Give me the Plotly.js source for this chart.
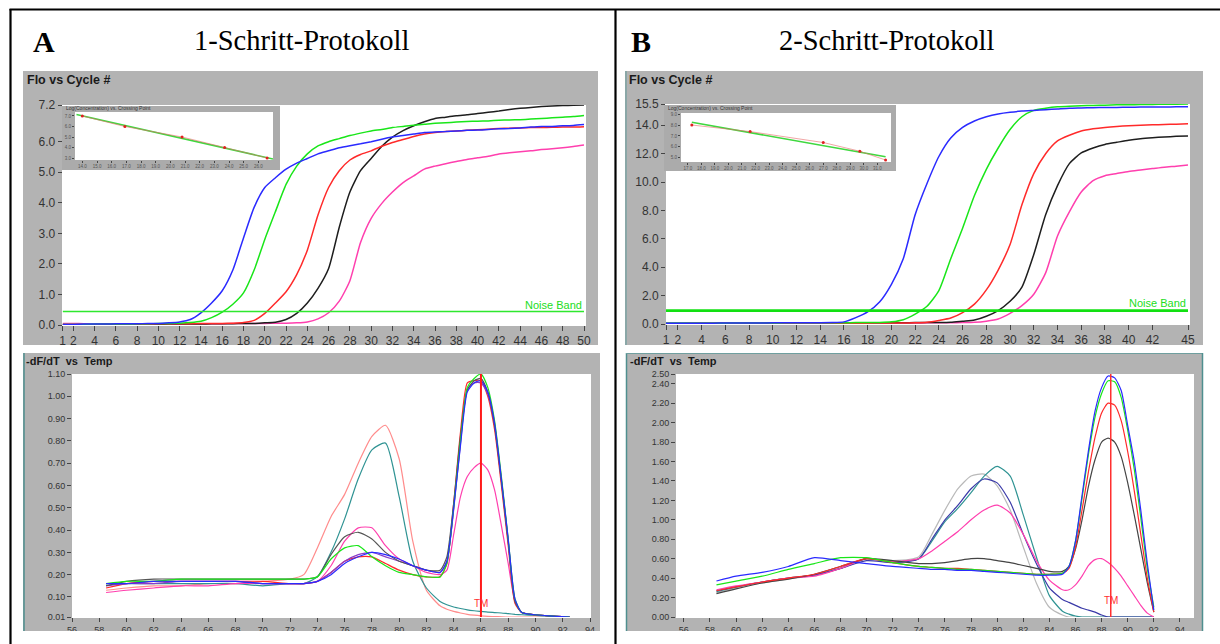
<!DOCTYPE html>
<html><head><meta charset="utf-8">
<script src="https://cdn.plot.ly/plotly-3.0.1.min.js"></script>
<style>html,body{margin:0;padding:0;background:#fff}#chart{width:1220px;height:644px}</style>
</head><body><div id="chart"></div>
<script>
// ---------------- DATA ----------------
const cyclesA = [1,2,3,4,5,6,7,8,9,10,11,12,13,14,15,16,17,18,19,20,21,22,23,24,25,26,27,28,29,30,31,32,33,34,35,36,37,38,39,40,41,42,43,44,45,46,47,48,49,50];
const ampA_blue  = [0.02,0.02,0.03,0.03,0.03,0.04,0.04,0.04,0.05,0.05,0.07,0.10,0.18,0.40,0.72,1.12,1.80,2.85,3.85,4.50,4.82,5.10,5.30,5.45,5.60,5.70,5.80,5.87,5.93,6.00,6.08,6.15,6.20,6.25,6.30,6.32,6.33,6.35,6.37,6.38,6.40,6.42,6.43,6.45,6.48,6.50,6.50,6.52,6.53,6.56];
const ampA_green = [0.02,0.02,0.02,0.03,0.03,0.03,0.03,0.04,0.04,0.05,0.05,0.06,0.08,0.12,0.24,0.42,0.68,1.05,1.80,2.80,3.71,4.60,5.20,5.60,5.86,6.00,6.10,6.20,6.28,6.35,6.40,6.46,6.50,6.54,6.57,6.60,6.62,6.64,6.66,6.67,6.68,6.70,6.71,6.72,6.74,6.76,6.78,6.80,6.82,6.86];
const ampA_red   = [0.02,0.02,0.02,0.02,0.03,0.03,0.03,0.03,0.03,0.04,0.04,0.04,0.04,0.05,0.05,0.05,0.06,0.08,0.15,0.38,0.72,1.09,1.65,2.45,3.60,4.50,5.05,5.40,5.58,5.70,5.85,5.97,6.07,6.17,6.25,6.30,6.33,6.35,6.37,6.39,6.41,6.43,6.44,6.45,6.46,6.46,6.47,6.48,6.48,6.49];
const ampA_black = [0.01,0.01,0.01,0.01,0.02,0.02,0.02,0.02,0.02,0.02,0.03,0.03,0.03,0.03,0.04,0.04,0.04,0.05,0.05,0.07,0.09,0.18,0.38,0.72,1.20,1.85,3.20,4.35,5.05,5.45,5.85,6.15,6.36,6.52,6.65,6.76,6.80,6.85,6.88,6.92,6.96,7.00,7.05,7.09,7.12,7.15,7.17,7.18,7.19,7.20];
const ampA_pink  = [0.05,0.05,0.04,0.02,0.02,0.02,0.03,0.03,0.03,0.03,0.03,0.03,0.04,0.04,0.04,0.04,0.05,0.05,0.05,0.05,0.06,0.06,0.07,0.10,0.20,0.40,0.78,1.45,2.70,3.49,3.98,4.35,4.66,4.88,5.10,5.20,5.28,5.35,5.42,5.47,5.52,5.60,5.64,5.67,5.70,5.74,5.77,5.80,5.84,5.89];
const noiseBandA = 0.44;
const ampA_xticks = [1,2,4,6,8,10,12,14,16,18,20,22,24,26,28,30,32,34,36,38,40,42,44,46,48,50];
const ampA_yticks = [0,1,2,3,4,5,6,7.2];

const cyclesB = [1,2,3,4,5,6,7,8,9,10,11,12,13,14,15,16,17,18,19,20,21,22,23,24,25,26,27,28,29,30,31,32,33,34,35,36,37,38,39,40,41,42,43,44,45];
const ampB_blue  = [0.05,0.05,0.06,0.06,0.06,0.07,0.07,0.07,0.07,0.08,0.08,0.08,0.09,0.09,0.10,0.15,0.45,0.85,1.55,2.80,4.60,7.70,9.90,11.80,13.10,13.85,14.30,14.60,14.80,14.92,15.00,15.05,15.10,15.15,15.20,15.22,15.24,15.25,15.26,15.27,15.28,15.28,15.29,15.30,15.30];
const ampB_green = [0.05,0.05,0.05,0.06,0.06,0.06,0.07,0.07,0.07,0.07,0.08,0.08,0.08,0.09,0.09,0.09,0.10,0.10,0.11,0.15,0.30,0.70,1.25,2.35,4.60,6.75,9.05,10.90,12.40,13.70,14.60,15.05,15.20,15.30,15.35,15.38,15.40,15.42,15.44,15.45,15.46,15.47,15.48,15.49,15.50];
const ampB_red   = [0.02,0.02,0.03,0.03,0.03,0.03,0.04,0.04,0.04,0.04,0.05,0.05,0.05,0.05,0.06,0.06,0.06,0.06,0.07,0.07,0.07,0.08,0.12,0.25,0.42,0.80,1.40,2.40,3.80,5.60,8.40,10.60,12.00,12.90,13.30,13.60,13.75,13.85,13.92,13.97,14.00,14.03,14.05,14.08,14.10];
const ampB_black = [0.05,0.05,0.05,0.05,0.06,0.06,0.06,0.06,0.06,0.07,0.07,0.07,0.07,0.07,0.08,0.08,0.08,0.08,0.09,0.09,0.09,0.10,0.10,0.10,0.12,0.20,0.28,0.55,0.95,1.60,2.60,4.90,7.70,9.75,11.30,12.05,12.40,12.65,12.80,12.95,13.05,13.12,13.18,13.22,13.25];
const ampB_pink  = [0.02,0.02,0.02,0.03,0.03,0.03,0.03,0.04,0.04,0.04,0.04,0.05,0.05,0.05,0.05,0.06,0.06,0.06,0.06,0.07,0.07,0.07,0.08,0.08,0.09,0.10,0.12,0.20,0.35,0.75,1.30,2.10,3.60,6.20,7.90,9.30,10.10,10.45,10.60,10.75,10.85,10.95,11.05,11.12,11.20];
const noiseBandB = 0.94;
const ampB_xticks = [1,2,4,6,8,10,12,14,16,18,20,22,24,26,28,30,32,34,36,38,40,42,45];
const ampB_yticks = [0,2,4,6,8,10,12,14,15.5];

const tempA = [58.5,60,62,64,66,68,70,72,73,74,75,76,77,78,79,80,81,82,83,83.5,84,84.5,85,85.5,86,86.5,87,87.5,88,88.5,89,90,91,92.5];
const meltA_green   = [0.16,0.17,0.17,0.18,0.18,0.18,0.18,0.18,0.18,0.19,0.27,0.32,0.33,0.28,0.24,0.21,0.20,0.19,0.19,0.25,0.50,0.80,1.04,1.08,1.10,1.04,0.89,0.64,0.36,0.09,0.03,0.02,0.015,0.01];
const meltA_black   = [0.15,0.17,0.18,0.18,0.18,0.18,0.18,0.18,0.18,0.19,0.29,0.37,0.39,0.36,0.30,0.26,0.24,0.22,0.22,0.28,0.52,0.82,1.03,1.07,1.08,1.02,0.87,0.62,0.35,0.08,0.03,0.02,0.015,0.01];
const meltA_red     = [0.14,0.16,0.17,0.17,0.17,0.17,0.17,0.16,0.16,0.17,0.21,0.26,0.28,0.28,0.25,0.22,0.20,0.19,0.19,0.25,0.52,0.84,1.06,1.07,1.07,1.00,0.85,0.60,0.33,0.07,0.03,0.02,0.015,0.01];
const meltA_blue    = [0.16,0.16,0.17,0.17,0.17,0.17,0.16,0.16,0.16,0.17,0.20,0.25,0.28,0.30,0.29,0.27,0.24,0.22,0.21,0.26,0.50,0.78,1.02,1.06,1.07,1.02,0.88,0.63,0.36,0.09,0.03,0.02,0.015,0.01];
const meltA_purple  = [0.15,0.16,0.16,0.17,0.17,0.17,0.16,0.16,0.16,0.17,0.21,0.26,0.29,0.30,0.28,0.26,0.24,0.22,0.21,0.26,0.49,0.79,1.03,1.06,1.06,1.01,0.87,0.62,0.35,0.08,0.03,0.02,0.015,0.01];
const meltA_magenta = [0.12,0.13,0.14,0.15,0.15,0.16,0.16,0.16,0.16,0.17,0.24,0.35,0.41,0.41,0.33,0.27,0.24,0.21,0.20,0.22,0.38,0.55,0.64,0.68,0.70,0.67,0.58,0.42,0.25,0.08,0.03,0.02,0.015,0.01];
const meltA_teal    = [0.16,0.16,0.16,0.16,0.16,0.16,0.15,0.16,0.16,0.19,0.30,0.45,0.63,0.76,0.79,0.55,0.26,0.14,0.08,0.065,0.055,0.048,0.042,0.038,0.035,0.032,0.03,0.028,0.025,0.022,0.02,0.017,0.014,0.01];
const meltA_salmon  = [0.13,0.14,0.15,0.15,0.16,0.16,0.17,0.18,0.20,0.32,0.46,0.56,0.70,0.82,0.87,0.72,0.35,0.13,0.06,0.045,0.035,0.028,0.022,0.018,0.015,0.013,0.012,0.011,0.01,0.01,0.01,0.01,0.01,0.01];
const tmA = 86;
const meltA_xticks = [56,58,60,62,64,66,68,70,72,74,76,78,80,82,84,86,88,90,92,94];
const meltA_yticks = [0.01,0.1,0.2,0.3,0.4,0.5,0.6,0.7,0.8,0.9,1.0,1.1];

const tempB = [58.5,60,62,64,66,68,70,72,74,75,76,77,78,79,80,81,82,83,84,85,85.5,86,86.5,87,87.5,88,88.5,89,89.5,90,90.5,91,91.5,92];
const meltB_blue    = [0.37,0.42,0.46,0.52,0.61,0.58,0.55,0.52,0.50,0.49,0.49,0.48,0.48,0.47,0.46,0.45,0.44,0.43,0.43,0.44,0.52,0.78,1.25,1.72,2.12,2.36,2.48,2.46,2.33,1.97,1.60,1.10,0.55,0.07];
const meltB_green   = [0.33,0.37,0.42,0.49,0.55,0.61,0.61,0.56,0.52,0.51,0.50,0.49,0.49,0.48,0.47,0.46,0.45,0.44,0.44,0.45,0.52,0.78,1.22,1.68,2.06,2.30,2.43,2.42,2.26,1.92,1.52,1.02,0.50,0.10];
const meltB_red     = [0.27,0.31,0.36,0.40,0.44,0.52,0.60,0.56,0.52,0.51,0.50,0.50,0.49,0.48,0.47,0.46,0.45,0.44,0.44,0.45,0.50,0.72,1.10,1.50,1.85,2.10,2.20,2.18,2.02,1.70,1.30,0.85,0.40,0.05];
const meltB_black   = [0.24,0.29,0.35,0.39,0.44,0.52,0.60,0.58,0.55,0.55,0.56,0.58,0.60,0.60,0.58,0.56,0.53,0.50,0.47,0.47,0.52,0.70,1.00,1.35,1.62,1.80,1.84,1.80,1.65,1.38,1.05,0.70,0.35,0.05];
const meltB_magenta = [0.28,0.32,0.36,0.40,0.42,0.50,0.60,0.57,0.60,0.68,0.78,0.88,1.00,1.10,1.15,1.07,0.85,0.58,0.38,0.28,0.28,0.33,0.42,0.53,0.59,0.60,0.56,0.50,0.42,0.32,0.22,0.12,0.04,0.00];
const meltB_teal    = [0.26,0.31,0.36,0.40,0.43,0.50,0.60,0.57,0.60,0.78,0.98,1.12,1.28,1.45,1.55,1.45,1.05,0.62,0.22,0.06,0.03,0.01,0.00,0.00,0.00,0.00,0.00,0.00,0.00,0.00,0.00,0.00,0.00,0.00];
const meltB_gray    = [0.25,0.30,0.35,0.39,0.43,0.50,0.60,0.58,0.62,0.85,1.10,1.32,1.45,1.47,1.35,1.10,0.72,0.35,0.10,0.02,0.00,0.00,0.00,0.00,0.00,0.00,0.00,0.00,0.00,0.00,0.00,0.00,0.00,0.00];
const meltB_navy    = [0.27,0.31,0.36,0.40,0.43,0.50,0.58,0.56,0.60,0.80,1.00,1.15,1.32,1.42,1.38,1.18,0.85,0.55,0.30,0.18,0.15,0.12,0.09,0.07,0.05,0.02,0.00,0.00,0.00,0.00,0.00,0.00,0.00,0.00];
const tmB = 88.7;
const meltB_xticks = [56,58,60,62,64,66,68,70,72,74,76,78,80,82,84,86,88,90,92,94];
const meltB_yticks = [0,0.2,0.4,0.6,0.8,1.0,1.2,1.4,1.6,1.8,2.0,2.2,2.4,2.5];

// inset standard curves: crossing point vs log(concentration)
const insA_cp   = [14.0,16.9,20.8,23.7,26.6];
const insA_log  = [7,6,5,4,3];
const insA_fitX = [13.6,27.0];
const insA_fitY = [7.15,2.9];
const insA_xticks = [14,15,16,17,18,19,20,21,22,23,24,25,26];
const insA_yticks = [3,4,5,6,7];
const insB_cp   = [17.3,21.6,27.0,29.7,31.6];
const insB_log  = [8.0,7.4,6.4,5.6,4.8];
const insB_fitX = [17.3,31.6];
const insB_fitY = [8.25,5.1];
const insB_xticks = [17,18,19,20,21,22,23,24,25,26,27,28,29,30,31];
const insB_yticks = [5,6,7,8,9];

// ---------------- LAYOUT HELPERS ----------------
const W = 1220, H = 644;
const fx = p => p / W;
const fy = p => 1 - p / H;
const C = {blue:'#2a2aff', green:'#19e619', red:'#ff2a2a', black:'#1e1e1e', pink:'#ff3fae',
           teal:'#2f9393', salmon:'#ff8c8c', purple:'#8a3cc8', gray:'#b9b9b9', navy:'#3a3aa8'};
const sans = 'Liberation Sans, Arial, sans-serif';
const ampTickFont = {family:sans, size:12, color:'#333'};
const meltTickFont = {family:sans, size:9, color:'#333'};

function axis(x0, x1, range, tickvals, fmt, anchor, font, tlen) {
  return {domain:[x0, x1], range:range, tickvals:tickvals, tickformat:fmt, anchor:anchor,
          ticks:'outside', ticklen:tlen || 4, tickcolor:'#444', tickwidth:1,
          showgrid:false, zeroline:false, showline:false, fixedrange:true,
          tickfont: font};
}
function line(x, y, xa, ya, color, width) {
  return {type:'scatter', mode:'lines', x:x, y:y, xaxis:xa, yaxis:ya,
          line:{color:color, width:width, shape:'spline', smoothing:0.6}, hoverinfo:'skip'};
}
function rect(x0, y0, x1, y1, fill, layer) {
  return {type:'rect', xref:'paper', yref:'paper', x0:fx(x0), x1:fx(x1), y0:fy(y1), y1:fy(y0),
          fillcolor:fill, line:{color:'rgba(0,0,0,0)', width:0}, layer:layer || 'below'};
}
function seg(x0, y0, x1, y1, color, width, layer) {
  return {type:'line', xref:'paper', yref:'paper', x0:fx(x0), x1:fx(x1), y0:fy(y0), y1:fy(y1),
          line:{color:color, width:width}, layer:layer || 'below'};
}

// ---------------- TRACES ----------------
const traces = [];
[[ampA_pink,C.pink],[ampA_black,C.black],[ampA_red,C.red],[ampA_green,C.green],[ampA_blue,C.blue]].forEach(s =>
  traces.push(line(cyclesA, s[0], 'x', 'y', s[1], 1.5)));
traces.push({type:'scatter', mode:'lines', x:[cyclesA[0], cyclesA[cyclesA.length-1]], y:[noiseBandA, noiseBandA],
  xaxis:'x', yaxis:'y', line:{color:'#2ee82e', width:1.5}, hoverinfo:'skip'});
[[ampB_pink,C.pink],[ampB_black,C.black],[ampB_red,C.red],[ampB_green,C.green],[ampB_blue,C.blue]].forEach(s =>
  traces.push(line(cyclesB, s[0], 'x2', 'y2', s[1], 1.5)));
traces.push({type:'scatter', mode:'lines', x:[cyclesB[0], cyclesB[cyclesB.length-1]], y:[noiseBandB, noiseBandB],
  xaxis:'x2', yaxis:'y2', line:{color:'#12e012', width:2.6}, hoverinfo:'skip'});
[[meltA_salmon,C.salmon],[meltA_teal,C.teal],[meltA_magenta,C.pink],[meltA_red,C.red],[meltA_purple,C.purple],
 [meltA_black,'#555'],[meltA_green,C.green],[meltA_blue,C.blue]].forEach(s =>
  traces.push(line(tempA, s[0], 'x3', 'y3', s[1], 1.2)));
traces.push({type:'scatter', mode:'lines', x:[tmA, tmA], y:[meltA_yticks[0], meltA_yticks[meltA_yticks.length-1]],
  xaxis:'x3', yaxis:'y3', line:{color:'#ff1a1a', width:2}, hoverinfo:'skip'});
[[meltB_gray,C.gray],[meltB_teal,C.teal],[meltB_navy,C.navy],[meltB_magenta,C.pink],[meltB_black,'#444'],
 [meltB_red,C.red],[meltB_green,C.green],[meltB_blue,C.blue]].forEach(s =>
  traces.push(line(tempB, s[0], 'x4', 'y4', s[1], 1.2)));
traces.push({type:'scatter', mode:'lines', x:[tmB, tmB], y:[meltB_yticks[0], meltB_yticks[meltB_yticks.length-1]],
  xaxis:'x4', yaxis:'y4', line:{color:'#ff3030', width:1.5}, hoverinfo:'skip'});
traces.push({type:'scatter', mode:'lines', x:insA_fitX, y:insA_fitY, xaxis:'x5', yaxis:'y5', line:{color:'#3fd83f', width:1.6}, hoverinfo:'skip'});
traces.push({type:'scatter', mode:'lines+markers', x:insA_cp, y:insA_log, xaxis:'x5', yaxis:'y5', line:{color:'#e86a6a', width:0.6}, marker:{color:'#e02020', size:3}, hoverinfo:'skip'});
traces.push({type:'scatter', mode:'lines', x:insB_fitX, y:insB_fitY, xaxis:'x6', yaxis:'y6', line:{color:'#3fd83f', width:1.6}, hoverinfo:'skip'});
traces.push({type:'scatter', mode:'lines+markers', x:insB_cp, y:insB_log, xaxis:'x6', yaxis:'y6', line:{color:'#e86a6a', width:0.6}, marker:{color:'#e02020', size:3}, hoverinfo:'skip'});

// ---------------- SHAPES ----------------
const GRAY = '#b3b3b3';
const shapes = [
  rect(23, 71, 598, 345, GRAY),
  rect(625, 71, 1203, 345, GRAY),
  rect(23, 353, 600, 631, GRAY),
  rect(626, 353, 1203, 631, GRAY),
  seg(24, 353, 24, 631, '#4f8f8f', 1.5),
  seg(626, 71, 626, 345, '#6f9f9f', 1.2),
  seg(626.5, 353, 626.5, 631, '#4f8f8f', 1.5),
  seg(626, 353.5, 1203, 353.5, '#6f9f9f', 1),
  seg(1202.5, 353, 1202.5, 631, '#4f8f8f', 1.5),
  rect(62, 105, 586, 326, '#ffffff'),
  rect(666, 104, 1190, 325, '#ffffff'),
  rect(72, 374, 591, 618, '#ffffff'),
  rect(676, 374, 1194, 618, '#ffffff'),
  rect(62, 105, 280, 170, '#ababab'),
  seg(62, 105.5, 280, 105.5, '#ffffff', 1),
  rect(75, 112, 273, 160, '#ffffff'),
  rect(664, 104, 896, 171, '#ababab'),
  seg(664, 104.5, 896, 104.5, '#ffffff', 1),
  rect(681, 113, 891, 162, '#ffffff'),
  rect(11.5, 345, 614, 353, '#ffffff', 'above'),
  rect(617, 345, 1220, 353, '#ffffff', 'above'),
  rect(11.5, 631, 614, 644, '#ffffff', 'above'),
  rect(617, 631, 1220, 644, '#ffffff', 'above'),
  seg(9.5, 9.5, 1220, 9.5, '#000', 2.2, 'above'),
  seg(10.5, 9, 10.5, 644, '#000', 2.2, 'above'),
  seg(615.5, 9, 615.5, 644, '#000', 2.2, 'above')
];

// ---------------- ANNOTATIONS ----------------
function txt(x, y, text, font) {
  return {xref:'paper', yref:'paper', x:fx(x), y:fy(y), text:text, showarrow:false,
    xanchor:'left', yanchor:'middle', font:font};
}
const serif = 'Liberation Serif, Times New Roman, serif';
const annotations = [
  txt(31, 42, '<b>A</b>', {family:serif, size:30, color:'#000'}),
  txt(192, 41, '1-Schritt-Protokoll', {family:serif, size:28.5, color:'#000'}),
  txt(629, 42, '<b>B</b>', {family:serif, size:30, color:'#000'}),
  txt(777, 41, '2-Schritt-Protokoll', {family:serif, size:28.5, color:'#000'}),
  txt(25, 80, '<b>Flo vs Cycle #</b>', {family:sans, size:12.5, color:'#1a1a1a'}),
  txt(627, 80, '<b>Flo vs Cycle #</b>', {family:sans, size:12.5, color:'#1a1a1a'}),
  txt(24, 361, '<b>-dF/dT  vs  Temp</b>', {family:sans, size:11, color:'#1a1a1a'}),
  txt(628, 361, '<b>-dF/dT  vs  Temp</b>', {family:sans, size:11, color:'#1a1a1a'}),
  txt(64, 108.5, 'Log(Concentration) vs. Crossing Point', {family:sans, size:5, color:'#333'}),
  txt(666, 108, 'Log(Concentration) vs. Crossing Point', {family:sans, size:5, color:'#333'}),
  {xref:'x', yref:'y', x:cyclesA[cyclesA.length-1], y:noiseBandA, text:'Noise Band', showarrow:false,
   xanchor:'right', yanchor:'bottom', yshift:-1, font:{family:sans, size:11, color:'#22dd22'}},
  {xref:'x2', yref:'y2', x:cyclesB[cyclesB.length-1], y:noiseBandB, text:'Noise Band', showarrow:false,
   xanchor:'right', yanchor:'bottom', yshift:0, font:{family:sans, size:11, color:'#22dd22'}},
  {xref:'x3', yref:'y3', x:tmA, y:0.07, text:'TM', showarrow:false, xanchor:'center', yanchor:'middle',
   font:{family:sans, size:10, color:'#ff3030'}},
  {xref:'x4', yref:'y4', x:tmB, y:0.17, text:'TM', showarrow:false, xanchor:'center', yanchor:'middle',
   font:{family:sans, size:10, color:'#ff3030'}}
];

const insFont = {family:sans, size:4.5, color:'#555'};
const layout = {
  width:W, height:H, margin:{l:0, r:0, t:0, b:0}, showlegend:false,
  paper_bgcolor:'#ffffff', plot_bgcolor:'rgba(0,0,0,0)',
  xaxis:  axis(fx(62.6), fx(584), [1, 50], ampA_xticks, 'd', 'y', ampTickFont, 5),
  yaxis:  axis(fy(325), fy(105), [0, 7.2], ampA_yticks, '.1f', 'x', ampTickFont, 4),
  xaxis2: axis(fx(666), fx(1188), [1, 45], ampB_xticks, 'd', 'y2', ampTickFont, 5),
  yaxis2: axis(fy(324), fy(104), [0, 15.5], ampB_yticks, '.1f', 'x2', ampTickFont, 4),
  xaxis3: axis(fx(72), fx(590), [56, 94], meltA_xticks, 'd', 'y3', meltTickFont, 4),
  yaxis3: axis(fy(617), fy(374), [0.01, 1.1], meltA_yticks, '.2f', 'x3', meltTickFont, 4),
  xaxis4: axis(fx(676), fx(1193), [55.4, 95], meltB_xticks, 'd', 'y4', meltTickFont, 4),
  yaxis4: axis(fy(617), fy(374), [0, 2.5], meltB_yticks, '.2f', 'x4', meltTickFont, 4),
  xaxis5: axis(fx(75), fx(273), [13.5, 27], insA_xticks, '.1f', 'y5', insFont, 2),
  yaxis5: axis(fy(160), fy(112), [2.81, 7.38], insA_yticks, '.1f', 'x5', insFont, 2),
  xaxis6: axis(fx(681), fx(891), [16.5, 32], insB_xticks, '.1f', 'y6', insFont, 2),
  yaxis6: axis(fy(162), fy(113), [4.62, 9.1], insB_yticks, '.1f', 'x6', insFont, 2),
  shapes: shapes,
  annotations: annotations
};

Plotly.newPlot('chart', traces, layout, {staticPlot:true, displayModeBar:false});
</script>
</body></html>
